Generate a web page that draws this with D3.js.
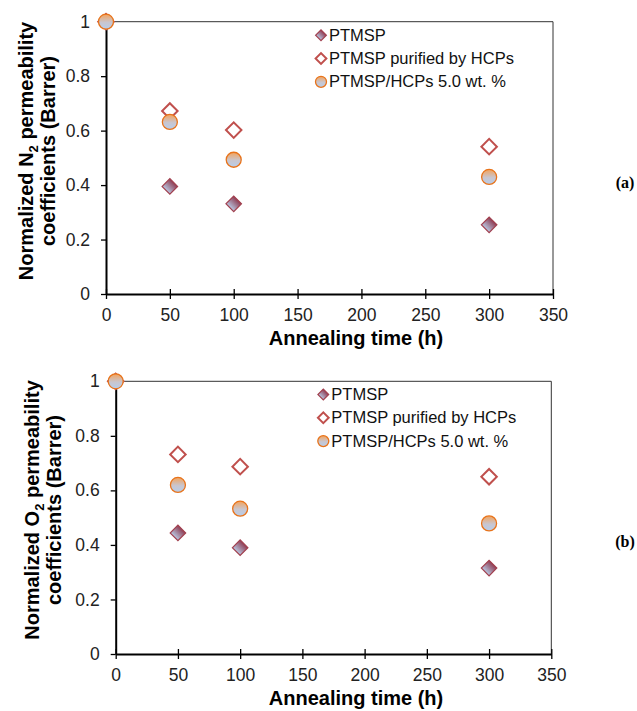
<!DOCTYPE html>
<meta charset="utf-8">
<script src="https://d3js.org/d3.v7.min.js"></script>
<style>
  body { margin: 0; background: #fff; }
  text { font-family: Arial, "Liberation Sans", sans-serif; }
</style>
<div id="my_dataviz"></div>
<script>

// data
var times = [0, 50, 100, 300];
var seriesNames = ["PTMSP", "PTMSP purified by HCPs", "PTMSP/HCPs 5.0 wt. %"];

var n2Ptmsp     = [1, 0.395, 0.331, 0.254];
var n2Purified  = [1, 0.672, 0.602, 0.541];
var n2Composite = [1, 0.632, 0.493, 0.430];

var o2Ptmsp     = [1, 0.444, 0.390, 0.315];
var o2Purified  = [1, 0.732, 0.687, 0.650];
var o2Composite = [1, 0.620, 0.533, 0.479];

var xTicks = [0, 50, 100, 150, 200, 250, 300, 350];
var yTicks = [0, 0.2, 0.4, 0.6, 0.8, 1];

var svg = d3.select("#my_dataviz")
  .append("svg")
    .attr("width", 637)
    .attr("height", 711);

// gradients for the filled markers
var defs = svg.append("defs");
var g1 = defs.append("linearGradient").attr("id", "gradDiamond")
  .attr("x1", 0).attr("y1", 0).attr("x2", 0).attr("y2", 1);
g1.append("stop").attr("offset", "0%").attr("stop-color", "#8f3e55");
g1.append("stop").attr("offset", "100%").attr("stop-color", "#b8c8e2");
var g2 = defs.append("linearGradient").attr("id", "gradCircle")
  .attr("x1", 0).attr("y1", 0).attr("x2", 0).attr("y2", 1);
g2.append("stop").attr("offset", "0%").attr("stop-color", "#f3a35c");
g2.append("stop").attr("offset", "55%").attr("stop-color", "#c9c6cf");
g2.append("stop").attr("offset", "100%").attr("stop-color", "#b6cdeb");

var styles = [
  {shape: "diamond", fill: "url(#gradDiamond)", stroke: "#a2404f", sw: 1.2},
  {shape: "diamond", fill: "#ffffff", stroke: "#c0504d", sw: 2},
  {shape: "circle", fill: "url(#gradCircle)", stroke: "#e8731a", sw: 1.3}
];

function marker(sel, st, big) {
  if (st.shape == "circle") {
    sel.append("circle")
      .attr("r", big ? 7.5 : 5.5)
      .attr("fill", st.fill).attr("stroke", st.stroke).attr("stroke-width", st.sw);
  } else {
    sel.append("path")
      .attr("d", d3.symbol(d3.symbolSquare, big ? 120 : 58)())
      .attr("transform", "rotate(45)")
      .attr("fill", st.fill).attr("stroke", st.stroke).attr("stroke-width", st.sw);
  }
}

function drawPanel(p) {
  var x = d3.scaleLinear().domain([0, 350]).range([p.left, p.right]);
  var y = d3.scaleLinear().domain([0, 1]).range([p.bottom, p.top]);

  // thin frame top/right
  svg.append("path")
    .attr("d", "M" + p.left + "," + p.top + "H" + p.right + "V" + p.bottom)
    .attr("fill", "none").attr("stroke", "#333").attr("stroke-width", 1);

  // y axis
  var ya = svg.append("g")
    .attr("transform", "translate(" + p.left + ",0)")
    .call(d3.axisLeft(y).tickValues(yTicks).tickSize(5).tickPadding(11)
      .tickSizeOuter(0).tickFormat(d3.format("")));
  ya.select(".domain").attr("stroke", "#000").attr("stroke-width", 2);
  ya.selectAll(".tick line").attr("stroke-width", 1.3);
  ya.selectAll("text").style("font-size", "17.5px").attr("fill", "#222");

  // x axis with ticks crossing the line
  var xa = svg.append("g")
    .attr("transform", "translate(0," + p.bottom + ")")
    .call(d3.axisBottom(x).tickValues(xTicks).tickSize(5).tickPadding(10)
      .tickSizeOuter(0));
  xa.select(".domain").attr("stroke", "#000").attr("stroke-width", 2);
  xa.selectAll(".tick line").attr("y1", -5).attr("stroke-width", 1.3);
  xa.selectAll("text").style("font-size", "17.5px").attr("fill", "#222");

  // x title
  svg.append("text")
    .attr("x", 356).attr("y", p.bottom + 51)
    .attr("text-anchor", "middle")
    .style("font-size", "20px").style("font-weight", "bold")
    .text("Annealing time (h)");

  // y title, two lines
  var t1 = svg.append("text")
    .attr("transform", "translate(" + p.yt1 + "," + p.ytc + ") rotate(-90)")
    .attr("text-anchor", "middle")
    .style("font-size", "20px").style("font-weight", "bold");
  t1.append("tspan").text("Normalized " + p.gas.charAt(0));
  t1.append("tspan").attr("dy", 5).style("font-size", "13px").text("2");
  t1.append("tspan").attr("dy", -5).text(" permeability");
  svg.append("text")
    .attr("transform", "translate(" + p.yt2 + "," + p.ytc + ") rotate(-90)")
    .attr("text-anchor", "middle")
    .style("font-size", "20px").style("font-weight", "bold")
    .text("coefficients (Barrer)");

  // points
  p.series.forEach(function(vals, i) {
    var pts = times.map(function(t, j) { return {t: t, v: vals[j]}; });
    svg.append("g").selectAll("g")
      .data(pts)
      .enter()
      .append("g")
        .attr("transform", function(d) { return "translate(" + x(d.t) + "," + y(d.v) + ")"; })
        .each(function() { marker(d3.select(this), styles[i], true); });
  });

  // legend
  seriesNames.forEach(function(name, i) {
    var row = svg.append("g")
      .attr("transform", "translate(" + p.legX + "," + (p.legY + i * 23.3) + ")");
    marker(row.append("g").attr("transform", "translate(0,-5.5)"), styles[i], false);
    row.append("text")
      .attr("x", 8).attr("y", 0)
      .style("font-size", "16.5px").attr("fill", "#111")
      .text(name);
  });

  // panel letter
  svg.append("text")
    .attr("x", 625).attr("y", p.letterY)
    .attr("text-anchor", "middle")
    .style("font-family", "'Liberation Serif', 'DejaVu Serif', serif")
    .style("font-size", "16px").style("font-weight", "bold")
    .text("(" + p.letter + ")");
}

drawPanel({left: 106, right: 553, top: 21.7, bottom: 294,
  series: [n2Ptmsp, n2Purified, n2Composite], gas: "N",
  yt1: 33, yt2: 55, ytc: 151, legX: 321, legY: 40.7, letter: "a", letterY: 188});

drawPanel({left: 115.7, right: 551.3, top: 381.3, bottom: 654,
  series: [o2Ptmsp, o2Purified, o2Composite], gas: "O",
  yt1: 38.5, yt2: 61, ytc: 510, legX: 323.3, legY: 400, letter: "b", letterY: 547});

</script>
